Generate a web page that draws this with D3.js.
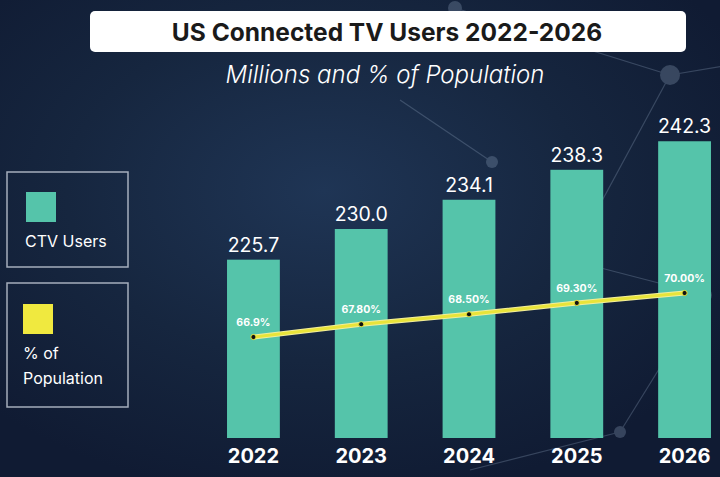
<!DOCTYPE html>
<html lang="en">
<head>
<meta charset="UTF-8">
<title>US Connected TV Users 2022-2026</title>
<script src="https://d3js.org/d3.v7.min.js"></script>
<style>
  body { margin: 0; background: #12213c; font-family: Inter, "Open Sans", sans-serif; }
  svg { display: block; }
</style>
</head>
<body>
<svg width="720" height="477"></svg>
<script>
// chart data
const years = ["2022", "2023", "2024", "2025", "2026"];
const ctvUsers = [225.7, 230.0, 234.1, 238.3, 242.3];
const popShare = [66.9, 67.8, 68.5, 69.3, 70.0];
const popLabels = ["66.9%", "67.80%", "68.50%", "69.30%", "70.00%"];

const svg = d3.select("svg"),
    width = +svg.attr("width"),
    height = +svg.attr("height");

// background
const defs = svg.append("defs");
const bg = defs.append("radialGradient").attr("id", "bg")
    .attr("cx", "45%").attr("cy", "40%").attr("r", "65%");
bg.append("stop").attr("offset", "0%").attr("stop-color", "#1f3555");
bg.append("stop").attr("offset", "55%").attr("stop-color", "#16263f");
bg.append("stop").attr("offset", "100%").attr("stop-color", "#101b33");
svg.append("rect").attr("width", width).attr("height", height).attr("fill", "url(#bg)");

// faint network decoration
const decor = svg.append("g").attr("opacity", 0.3);
const nodes = [[670, 75, 10], [492, 162, 6], [455, 8, 7], [705, 295, 7], [620, 432, 6], [760, 60, 0], [400, 100, 0], [470, 470, 0], [570, 260, 0]];
const links = [[0, 2], [0, 5], [0, 8], [1, 6], [3, 8], [4, 7], [4, 3]];
decor.selectAll("line").data(links).join("line")
    .attr("x1", d => nodes[d[0]][0]).attr("y1", d => nodes[d[0]][1])
    .attr("x2", d => nodes[d[1]][0]).attr("y2", d => nodes[d[1]][1])
    .attr("stroke", "#8fa3bd").attr("stroke-width", 1.2);
decor.selectAll("circle").data(nodes.filter(d => d[2] > 0)).join("circle")
    .attr("cx", d => d[0]).attr("cy", d => d[1]).attr("r", d => d[2])
    .attr("fill", "#8fa3bd");

// title
svg.append("rect")
    .attr("x", 90).attr("y", 11).attr("width", 596).attr("height", 41)
    .attr("rx", 5).attr("fill", "#ffffff");
svg.append("text")
    .attr("x", 387).attr("y", 41)
    .attr("text-anchor", "middle")
    .attr("font-size", "24.5px").attr("font-weight", "bold")
    .attr("fill", "#1a1a1a")
    .text("US Connected TV Users 2022-2026");
svg.append("text")
    .attr("x", 385).attr("y", 83)
    .attr("text-anchor", "middle")
    .attr("font-size", "24px").attr("font-style", "italic").attr("font-weight", 300)
    .attr("fill", "#ffffff")
    .text("Millions and % of Population");

// scales
const x = d3.scaleBand().domain(years).range([199, 739]).paddingInner(0.51).paddingOuter(0.26);
const y = d3.scaleLinear().domain([200.7, 245]).range([438, 122]);
const y2 = d3.scaleLinear().domain([60, 75]).range([435, 222]);

// bars
svg.append("g").selectAll("rect")
    .data(ctvUsers).join("rect")
    .attr("x", (d, i) => x(years[i]))
    .attr("y", d => y(d))
    .attr("width", x.bandwidth())
    .attr("height", d => y.range()[0] - y(d))
    .attr("fill", "#55c4aa");

svg.append("g").selectAll("text")
    .data(ctvUsers).join("text")
    .attr("x", (d, i) => x(years[i]) + x.bandwidth() / 2)
    .attr("y", d => y(d) - 8)
    .attr("text-anchor", "middle")
    .attr("font-size", "19.5px")
    .attr("fill", "#ffffff")
    .text(d => d.toFixed(1));

// year axis
const xAxis = svg.append("g")
    .attr("transform", "translate(0,438)")
    .call(d3.axisBottom(x).tickSize(0).tickPadding(11));
xAxis.select(".domain").remove();
xAxis.selectAll("text")
    .attr("font-size", "20px").attr("font-weight", "bold")
    .attr("font-family", "Inter, sans-serif")
    .attr("fill", "#ffffff");

// share line
const cx = i => x(years[i]) + x.bandwidth() / 2;
const line = d3.line().x((d, i) => cx(i)).y(d => y2(d));
svg.append("path").datum(popShare)
    .attr("d", line).attr("fill", "none")
    .attr("stroke", "#f3ee9a").attr("stroke-width", 5);
svg.append("path").datum(popShare)
    .attr("d", line).attr("fill", "none")
    .attr("stroke", "#e9e43a").attr("stroke-width", 3);
svg.append("g").selectAll("circle")
    .data(popShare).join("circle")
    .attr("cx", (d, i) => cx(i)).attr("cy", d => y2(d))
    .attr("r", 2.6).attr("fill", "#111")
    .attr("stroke", "#e9e43a").attr("stroke-width", 1);
svg.append("g").selectAll("text")
    .data(popShare).join("text")
    .attr("x", (d, i) => cx(i))
    .attr("y", d => y2(d) - 11)
    .attr("text-anchor", "middle")
    .attr("font-size", "10.5px").attr("font-weight", "bold")
    .attr("fill", "#ffffff")
    .text((d, i) => popLabels[i]);

// legend
const legend = svg.append("g");
legend.append("rect").attr("x", 7).attr("y", 172).attr("width", 121).attr("height", 95)
    .attr("fill", "none").attr("stroke", "#c9d1dc").attr("stroke-width", 1.5).attr("opacity", 0.8);
legend.append("rect").attr("x", 26).attr("y", 192).attr("width", 30).attr("height", 30).attr("fill", "#55c4aa");
legend.append("text").attr("x", 25).attr("y", 247).attr("font-size", "16px")
    .attr("fill", "#ffffff").text("CTV Users");

legend.append("rect").attr("x", 7).attr("y", 283).attr("width", 121).attr("height", 124)
    .attr("fill", "none").attr("stroke", "#c9d1dc").attr("stroke-width", 1.5).attr("opacity", 0.8);
legend.append("rect").attr("x", 23).attr("y", 304).attr("width", 30).attr("height", 30).attr("fill", "#f0e93f");
legend.append("text").attr("x", 23).attr("y", 359).attr("font-size", "16px")
    .attr("fill", "#ffffff").text("% of");
legend.append("text").attr("x", 23).attr("y", 384).attr("font-size", "16px")
    .attr("fill", "#ffffff").text("Population");
</script>
</body>
</html>
